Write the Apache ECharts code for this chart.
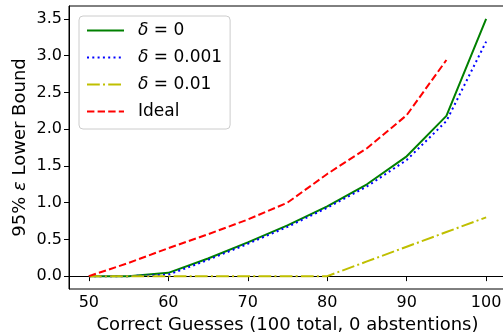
<!DOCTYPE html>
<html><head><meta charset="utf-8">
<script src="https://cdn.jsdelivr.net/npm/echarts@6/dist/echarts.min.js"></script>
<style>html,body{margin:0;padding:0;background:#fff}#c{width:503px;height:336px}</style>
</head><body><div id="c"></div>
<script>
const xs = [50, 55, 60, 65, 70, 75, 80, 85, 90, 95, 100];
const delta0 = [0, 0, 0.045, 0.24, 0.46, 0.69, 0.95, 1.25, 1.63, 2.18, 3.5];
const delta001 = [0, 0, 0.02, 0.22, 0.44, 0.67, 0.93, 1.22, 1.58, 2.11, 3.19];
const delta01 = [0, 0, 0, 0, 0, 0, 0, 0.2, 0.4, 0.6, 0.8];
const idealX = [50, 55, 60, 65, 70, 75, 80, 85, 90, 95];
const ideal = [0, 0.18, 0.38, 0.57, 0.77, 1.0, 1.39, 1.74, 2.19, 2.94];
const xTicks = [50, 60, 70, 80, 90, 100];
const yTicks = [0, 0.5, 1.0, 1.5, 2.0, 2.5, 3.0, 3.5];
const names = ['δ = 0', 'δ = 0.001', 'δ = 0.01', 'Ideal'];

const pairs = (x, y) => x.map((v, i) => [v, y[i]]);
const font = 'DejaVu Sans';
const FS = 16, LFS = 18, GFS = 17;
const chart = echarts.init(document.getElementById('c'), null, {renderer: 'canvas'});
function mk(name, data, color, type, z) {
  return {name, type: 'line', data, symbol: 'none', z,
    lineStyle: {color, width: 2, type, cap: 'butt'}, itemStyle: {color}, animation: false};
}
chart.setOption({
  animation: false,
  grid: {left: 69, right: -3, top: 6, bottom: 47, outerBoundsMode: 'none', containLabel: false,
    show: true, borderColor: '#000', borderWidth: 1, backgroundColor: 'transparent'},
  xAxis: {type: 'value', min: 47.5, max: 102.5,
    name: 'Correct Guesses (100 total, 0 abstentions)', nameLocation: 'middle', nameGap: 27,
    nameMoveOverlap: false,
    nameTextStyle: {fontFamily: font, fontSize: LFS, color: '#000'},
    axisLine: {show: true, lineStyle: {color: '#000', width: 1}},
    axisTick: {show: true, length: 5, customValues: xTicks, lineStyle: {color: '#000'}},
    axisLabel: {customValues: xTicks, fontFamily: font, fontSize: FS, color: '#000', margin: 6},
    splitLine: {show: false}},
  yAxis: {type: 'value', min: -0.175, max: 3.675,
    name: '{a|95% }{i|ε}{a| Lower Bound}', nameLocation: 'middle', nameGap: 40,
    nameMoveOverlap: false,
    nameTextStyle: {fontFamily: font, fontSize: LFS, color: '#000',
      rich: {a: {fontFamily: font, fontSize: LFS, color: '#000'}, i: {fontFamily: font, fontSize: LFS, fontStyle: 'italic', color: '#000'}}},
    axisLine: {show: true, lineStyle: {color: '#000', width: 1}},
    axisTick: {show: true, length: 5, customValues: yTicks, lineStyle: {color: '#000'}},
    axisLabel: {customValues: yTicks, fontFamily: font, fontSize: FS, color: '#000', margin: 7,
      formatter: v => v.toFixed(1)},
    splitLine: {show: false}},
  legend: {orient: 'vertical', left: 79, top: 16,
    data: names.map(n => ({name: n, itemStyle: {opacity: 0}})),
    itemWidth: 37, itemHeight: 14, itemGap: 10,
    padding: [6, 8, 9, 7],
    backgroundColor: 'rgba(255,255,255,0.8)', borderColor: '#cccccc', borderWidth: 1, borderRadius: 4,
    textStyle: {fontFamily: font, fontSize: GFS, lineHeight: 17, color: '#000', padding: [0, 0, 0, 9],
      rich: {i: {fontFamily: font, fontSize: GFS, lineHeight: 17, fontStyle: 'italic', color: '#000'}, a: {fontFamily: font, fontSize: GFS, lineHeight: 17, color: '#000'}}},
    formatter: n => n.startsWith('δ') ? '{i|δ}{a|' + n.slice(1) + '}' : '{a|' + n + '}'},
  series: [
    mk(names[0], pairs(xs, delta0), '#008000', 'solid', 2),
    mk(names[1], pairs(xs, delta001), '#0000ff', [2, 3.3], 3),
    mk(names[2], pairs(xs, delta01), '#bfbf00', [12.8, 3.2, 2, 3.2], 4),
    mk(names[3], pairs(idealX, ideal), '#ff0000', [7.4, 3.2], 5)
  ]
});
</script></body></html>
